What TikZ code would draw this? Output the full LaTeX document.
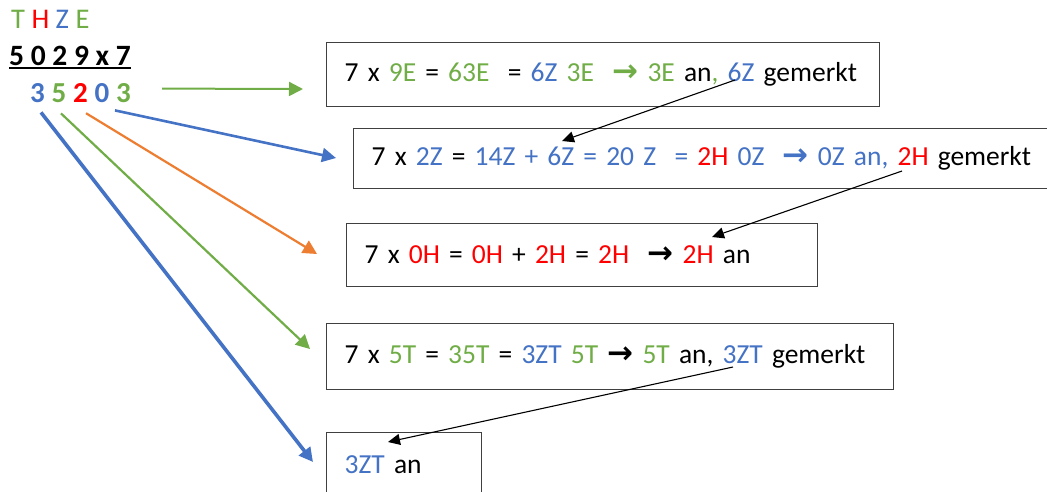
\documentclass[tikz,border=0pt]{standalone}
\usepackage{fontspec}
\setmainfont{Carlito}[WordSpace=0.8]
\newfontfamily\kopf{Carlito}
\newfontfamily\symfont{DejaVu Sans}
\usetikzlibrary{arrows.meta,calc}
\definecolor{grn}{RGB}{112,173,71}
\definecolor{blu}{RGB}{68,114,196}
\definecolor{rd}{RGB}{255,0,0}
\definecolor{orn}{RGB}{237,125,49}
\newcommand{\gruen}[1]{\textcolor{grn}{#1}}
\newcommand{\blau}[1]{\textcolor{blu}{#1}}
\newcommand{\rot}[1]{\textcolor{rd}{#1}}
\newcommand{\pfeil}{{\symfont\bfseries\fontsize{31}{31}\selectfont →}}
\begin{document}
\begin{tikzpicture}[x=1pt,y=-1pt,
  box/.style={draw=black!75,line width=1.3pt,anchor=north west,inner xsep=18pt,inner ysep=0pt,align=left,font=\fontsize{27.5}{34}\selectfont},
  ziffer/.style={inner sep=0pt,anchor=base,font=\kopf\fontsize{29}{34}\selectfont\bfseries},
  zeiger/.style={-{Triangle[length=14pt,width=14pt]},line width=#1},
  merk/.style={-{Triangle[length=12pt,width=11pt]},line width=1.1pt}]
\useasboundingbox (0,0) rectangle (1047,491);
\node[anchor=base west,inner sep=0pt,font=\kopf\fontsize{28.5}{34}\selectfont] (stellen) at (11,28) {\gruen{T} \rot{H} \blau{Z} \gruen{E}};
\node[anchor=base west,inner sep=0pt,font=\kopf\fontsize{29.5}{34}\selectfont\bfseries] (aufgabe) at (9,65) {5 0 2 9 x 7};
\draw[line width=2pt] ($(aufgabe.base west)+(0,3)$) -- ($(aufgabe.base east)+(0,3)$);
\foreach \d/\c/\n [count=\i] in {3/blu/rZT,5/grn/rT,2/rd/rH,0/blu/rZ,3/grn/rE}
  \node[ziffer,text=\c] (\n) at ({16+21.5*\i},102) {\d};
\node[box,text width=517pt,minimum height=64pt] (box1) at (326,42) {\mbox{7 x \gruen{9E} = \gruen{63E}~ = \blau{6Z} \gruen{3E}~ \gruen{\pfeil} \gruen{3E} an\gruen{,} \blau{6Z} gemerkt}};
\node[box,text width=666pt,minimum height=60pt] (box2) at (353,128) {\mbox{7 x \blau{2Z} = \blau{14Z + 6Z = 20 Z~ =} \rot{2H} \blau{0Z}~ \blau{\pfeil{} 0Z an,} \rot{2H} gemerkt}};
\node[box,text width=435pt,minimum height=63pt] (box3) at (346,223) {\mbox{7 x \rot{0H} = \rot{0H} + \rot{2H} = \rot{2H}~ \pfeil{} \rot{2H} an}};
\node[box,text width=531pt,minimum height=66pt] (box4) at (326,323) {\mbox{7 x \gruen{5T} = \gruen{35T} = \blau{3ZT} \gruen{5T} \pfeil{} \gruen{5T} an, \blau{3ZT} gemerkt}};
\node[box,text width=119pt,minimum height=64pt] (box5) at (326,432) {\blau{3ZT} an};
\coordinate (in1) at (303,89);
\coordinate (in2) at (336,158);
\coordinate (in3) at (317,254);
\coordinate (in4) at (310,349);
\coordinate (in5) at (313,462);
\draw[zeiger=2pt,grn] ($(rE.east)+(31,-4)$) -- (in1);
\draw[zeiger=2.6pt,blu] ($(rZ.south)+(13,8)$) -- (in2);
\draw[zeiger=2.2pt,orn] ($(rH.south)+(5.5,11)$) -- (in3);
\draw[zeiger=2.2pt,grn] ($(rT.south)+(2,11)$) -- (in4);
\draw[zeiger=3.6pt,blu] ($(rZT.south)+(3.5,10)$) -- (in5);
\coordinate (m1) at (735,80); \coordinate (m2) at (562,141);
\coordinate (m3) at (902,171); \coordinate (m4) at (712,237);
\coordinate (m5) at (733,367); \coordinate (m6) at (388,442);
\draw[merk] (m1) -- (m2);
\draw[merk] (m3) -- (m4);
\draw[merk] (m5) -- (m6);
\end{tikzpicture}
\end{document}
